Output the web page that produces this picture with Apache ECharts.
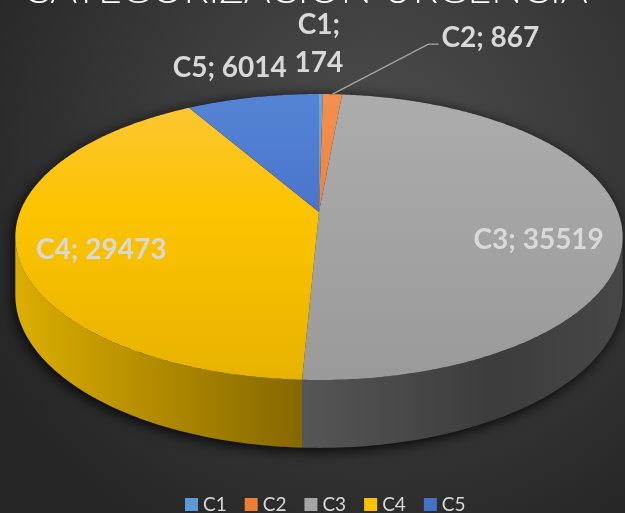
<!DOCTYPE html>
<html>
<head>
<meta charset="utf-8">
<script src="https://cdn.jsdelivr.net/npm/echarts@6/dist/echarts.min.js"></script>
<style>html,body{margin:0;padding:0;background:#333;}#chart{width:625px;height:513px;}</style>
</head>
<body>
<div id="chart"></div>
<script>
// ---- data ----
const categories = ['C1', 'C2', 'C3', 'C4', 'C5'];
const values = [174, 867, 35519, 29473, 6014];
const chartTitle = 'CATEGORIZACION URGENCIA';

// ---- styles ----
const flatColors = ['#5B9BD5', '#ED7D31', '#A5A5A5', '#FFC000', '#4472C4'];
const topStops = [
  [['#6aa7dc', 0], ['#4a8ac8', 1]],
  [['#f39050', 0], ['#e26f1e', 1]],
  [['#acacac', 0], ['#a3a3a3', 0.5], ['#9a9a9a', 1]],
  [['#fdc638', 0], ['#fcc400', 0.4], ['#e8b300', 1]],
  [['#5684d4', 0], ['#3560bd', 1]]
];
const sideStops = [
  [['#3f78b0', 0], ['#2d5a88', 1]],
  [['#c0621f', 0], ['#8c4514', 1]],
  [['#565656', 0], ['#3c3c3c', 0.6], ['#474747', 1]],
  [['#dcae00', 0], ['#b58e00', 0.45], ['#856800', 1]],
  [['#34589a', 0], ['#253f70', 1]]
];

// ---- geometry (3D perspective disc) ----
const CX = 319, CY = 212, RX = 299, RY = 138.6, P = 0.175, DEPTH = 56;
const total = values.reduce((a, b) => a + b, 0);
const starts = [];
values.reduce((acc, v, i) => { starts[i] = acc; return acc + v; }, 0);

function proj(theta, r, z) {
  const u = r * Math.sin(theta), v = -r * Math.cos(theta);
  const s = 1 / (1 - P * v);
  return [CX + RX * u * s, CY + RY * v * s + z * DEPTH * s];
}
function arc(t0, t1, z) {
  const n = Math.max(2, Math.ceil((t1 - t0) / 0.01));
  const pts = [];
  for (let i = 0; i <= n; i++) pts.push(proj(t0 + (t1 - t0) * i / n, 1, z));
  return pts;
}
const A = Math.acos(-P), B = 2 * Math.PI - Math.acos(-P);
function grad(stops, x0, y0, x1, y1) {
  return new echarts.graphic.LinearGradient(x0, y0, x1, y1,
    stops.map(s => ({ offset: s[1], color: s[0] })), true);
}

// label layout per category: r, dx, dy, align, leader
const labelLayout = [
  { r: 1, dx: -2, dy: -50, align: 'center', two: true },
  { r: 1, dx: 109, dy: -56, align: 'left', leader: [[96, -50], [106, -50]] },
  { r: 0.73, dx: 0, dy: 21, align: 'center' },
  { r: 0.74, dx: 4, dy: 13, align: 'center' },
  { r: 1, dx: -23, dy: -30, align: 'center' }
];

const series = [];
// shadow
series.push({
  type: 'custom', coordinateSystem: 'none', z: 1, silent: true,
  data: [[0]],
  renderItem: function () {
    const pts = arc(B - 2 * Math.PI, A, 0).concat(arc(A, B, 1));
    return { type: 'polygon', shape: { points: pts },
      style: { fill: '#1a1a1a', shadowBlur: 14, shadowColor: 'rgba(0,0,0,0.9)', shadowOffsetY: 3, shadowOffsetX: -2 } };
  }
});
// sides
series.push({
  type: 'custom', coordinateSystem: 'none', z: 2, silent: true,
  data: values.map((v, i) => [v, starts[i], i]),
  renderItem: function (params, api) {
    const v = api.value(0), st = api.value(1), idx = api.value(2);
    let t0 = st / total * 2 * Math.PI, t1 = (st + v) / total * 2 * Math.PI;
    t0 = Math.max(t0, A); t1 = Math.min(t1, B);
    if (t1 <= t0) return null;
    const top = arc(t0, t1, 0), bot = arc(t0, t1, 1).reverse();
    const xs = top.map(p => p[0]);
    const xmin = Math.min.apply(null, xs), xmax = Math.max.apply(null, xs);
    return { type: 'polygon', shape: { points: top.concat(bot) },
      style: { fill: grad(sideStops[idx], xmin, 0, xmax, 0), stroke: null } };
  }
});
// tops (one series per category so the legend lists them)
categories.forEach((name, i) => {
  series.push({
    type: 'custom', name: name, coordinateSystem: 'none', z: 3,
    itemStyle: { color: flatColors[i] },
    data: [[values[i], starts[i], i]],
    renderItem: function (params, api) {
      const v = api.value(0), st = api.value(1), idx = api.value(2);
      const t0 = st / total * 2 * Math.PI, t1 = (st + v) / total * 2 * Math.PI;
      const pts = [proj(0, 0, 0)].concat(arc(t0, t1, 0));
      const children = [{ type: 'polygon', shape: { points: pts },
        style: { fill: grad(topStops[idx], 0, 94, 0, 380) } }];
      const L = labelLayout[idx];
      const mid = (t0 + t1) / 2;
      const anchor = proj(mid, L.r, 0);
      const txt = L.two ? categories[idx] + ';\n' + v : categories[idx] + '; ' + v;
      children.push({ type: 'text', z2: 10,
        style: { text: txt, x: anchor[0] + L.dx, y: anchor[1] + L.dy,
          fill: '#d9d9d9', font: 'bold 28px Lato', lineHeight: 38,
          align: L.align, verticalAlign: 'middle' } });
      if (L.leader) {
        const lp = [anchor].concat(L.leader.map(o => [anchor[0] + o[0], anchor[1] + o[1]]));
        children.push({ type: 'polyline', shape: { points: lp },
          style: { stroke: '#a6a6a6', lineWidth: 1.3, fill: null } });
      }
      return { type: 'group', children: children };
    }
  });
});

const chart = echarts.init(document.getElementById('chart'), null, { renderer: 'canvas' });
chart.setOption({
  animation: false,
  backgroundColor: new echarts.graphic.RadialGradient(0.6, 0.3, 0.85, [
    { offset: 0, color: '#4e4e4e' }, { offset: 1, color: '#262626' }]),
  graphic: [{
    type: 'text', x: 305, y: 10,
    style: { text: chartTitle, fill: '#ffffff', font: '300 41px Lato',
      align: 'center', verticalAlign: 'bottom' }
  }],
  legend: {
    data: categories, left: 180, top: 490, icon: 'rect',
    itemWidth: 13, itemHeight: 13, itemGap: 18,
    textStyle: { color: '#d9d9d9', fontSize: 19, fontFamily: 'Lato' }
  },
  series: series
});
</script>
</body>
</html>
